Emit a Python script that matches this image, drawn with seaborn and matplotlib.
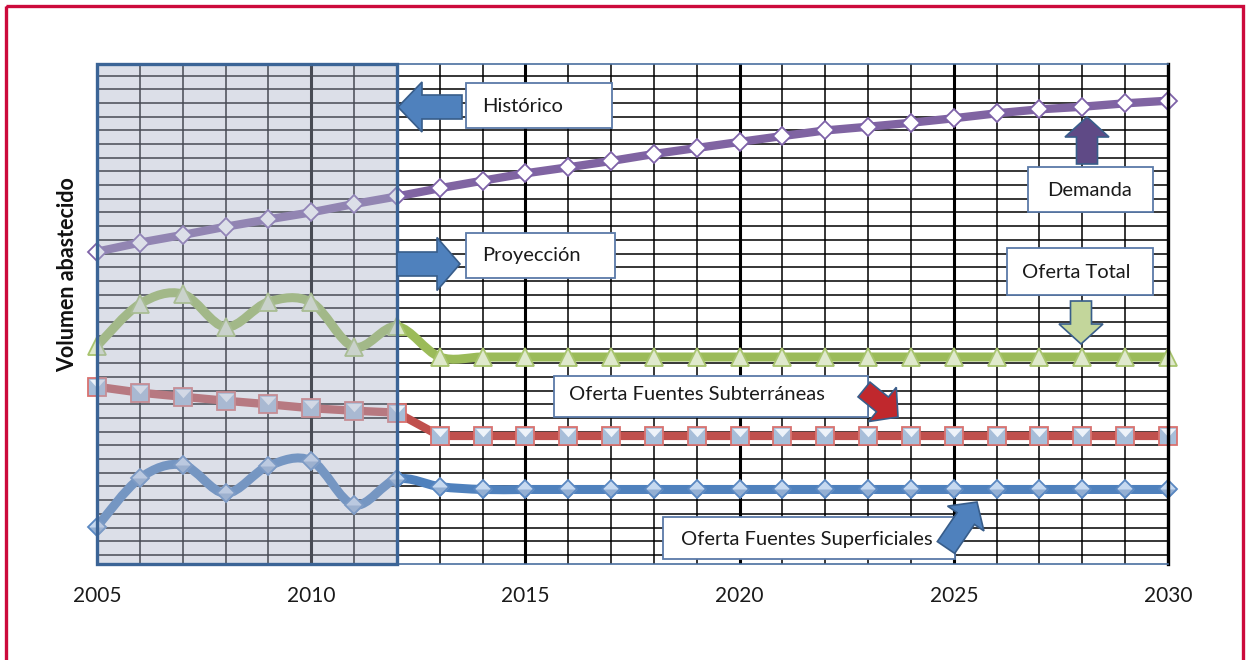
import numpy as np
import pandas as pd
import seaborn as sns
import matplotlib.pyplot as plt
from matplotlib.path import Path
from matplotlib.patches import PathPatch, Rectangle, FancyArrow
from matplotlib.transforms import Affine2D

# data (arbitrary volume units)
years = list(range(2005, 2031))
demanda = [22.14, 22.80, 23.36, 23.96, 24.50, 25.01, 25.62, 26.17, 26.77, 27.32,
           27.86, 28.30, 28.76, 29.27, 29.71, 30.15, 30.58, 30.99, 31.26, 31.55,
           31.88, 32.24, 32.53, 32.72, 32.97, 33.16]
oferta_total = [15.26, 18.32, 19.05, 16.64, 18.47, 18.45, 15.18, 16.68] + [14.45] * 18
subterraneas = [12.28, 11.85, 11.55, 11.26, 11.00, 10.71, 10.53, 10.39] + [8.69] * 18
superficiales = [2.07, 5.60, 6.57, 4.50, 6.50, 6.88, 3.65, 5.53, 4.99] + [4.78] * 17
tick_labels = ["2005", "2010", "2015", "2020", "2025", "2030"]

df = pd.DataFrame({"year": years, "demanda": demanda, "total": oferta_total,
                   "sub": subterraneas, "sup": superficiales})

W, H = 1246, 660
sns.set_style("white")
plt.rcParams["font.family"] = ["Lato", "DejaVu Sans"]

fig = plt.figure(figsize=(W / 100, H / 100), dpi=100)
ax = fig.add_axes([97 / W, 1 - 564 / H, (1168 - 97) / W, (564 - 64) / H])
px = Affine2D().scale(1, -1).translate(0, H)  # pixel coords, origin top-left


def smooth_path(xs, ys):
    pts = np.column_stack([xs, ys]).astype(float)
    n = len(pts)
    verts, codes = [pts[0]], [Path.MOVETO]
    for i in range(n - 1):
        p0, p1, p2, p3 = pts[max(i - 1, 0)], pts[i], pts[i + 1], pts[min(i + 2, n - 1)]
        verts += [p1 + (p2 - p0) / 6, p2 - (p3 - p1) / 6, p2]
        codes += [Path.CURVE4] * 3
    return Path(verts, codes)


# grid
ax.set_xlim(2005, 2030)
ax.set_ylim(-0.66, 35.84)
ax.set_xticks(years)
ax.set_xticklabels([str(y) if str(y) in tick_labels else "" for y in years])
ax.set_yticks(range(36))
ax.set_yticklabels([])
ax.tick_params(length=0, labelsize=15, pad=16, colors="#1a1a1a")
ax.grid(True, color="black", lw=1.1)
ax.set_axisbelow(True)
for x in [2010, 2015, 2020, 2025]:
    ax.axvline(x, color="black", lw=2.2, zorder=0.6)
for s in ["top", "bottom"]:
    ax.spines[s].set_color("#4a6fa0")
    ax.spines[s].set_linewidth(1.2)
ax.spines["right"].set_color("black")
ax.spines["right"].set_linewidth(2.4)
ax.spines["left"].set_visible(False)

# straight series
sns.lineplot(data=df, x="year", y="demanda", ax=ax, color="#8064a2", lw=6,
             marker="D", markersize=9.5, markerfacecolor="white",
             markeredgecolor="#7e62a8", markeredgewidth=1.3, zorder=2, clip_on=False)

sns.lineplot(data=df, x="year", y="sub", ax=ax, color="#c0504d", lw=6,
             marker="s", markersize=12.5, markerfacecolor="#a7bed9",
             markeredgecolor="#d9726f", markeredgewidth=1.3, zorder=2, clip_on=False)
sns.lineplot(data=df, x="year", y="sub", ax=ax, linestyle="none",
             marker=[(-1, 1), (1, 1), (0, -0.1)], markersize=11,
             markerfacecolor="#eef3f9", markeredgewidth=0, zorder=2.1, clip_on=False)

# smoothed series
ax.add_patch(PathPatch(smooth_path(years, oferta_total), fill=False,
                       edgecolor="#9bbb59", lw=6.5, zorder=2, capstyle="round"))
sns.lineplot(data=df, x="year", y="total", ax=ax, linestyle="none",
             marker="^", markersize=13, markerfacecolor="#dfe9cc",
             markeredgecolor="#a8c46e", markeredgewidth=1.3, zorder=2.1, clip_on=False)

ax.add_patch(PathPatch(smooth_path(years, superficiales), fill=False,
                       edgecolor="#4f81bd", lw=6.5, zorder=2, capstyle="round"))
sns.lineplot(data=df, x="year", y="sup", ax=ax, linestyle="none",
             marker="D", markersize=9.5, markerfacecolor="#c6d9f0",
             markeredgewidth=0, zorder=2.1, clip_on=False)
sns.lineplot(data=df, x="year", y="sup", ax=ax, linestyle="none",
             marker=[(-1, 0), (1, 0), (0, -1)], markersize=13.4,
             markerfacecolor="#93afd3", markeredgewidth=0, zorder=2.2, clip_on=False)
sns.lineplot(data=df, x="year", y="sup", ax=ax, linestyle="none",
             marker="D", markersize=9.5, markerfacecolor="none",
             markeredgecolor="#5a88c2", markeredgewidth=1.3, zorder=2.3, clip_on=False)

# historic period overlay
ax.add_patch(Rectangle((2005, -0.66), 7, 36.5, facecolor=(172 / 255, 180 / 255, 202 / 255),
                       alpha=0.42, edgecolor="none", zorder=3, clip_on=False))
ax.add_patch(Rectangle((2005, -0.66), 7, 36.5, facecolor="none", edgecolor="#3b6496",
                       lw=2.4, zorder=3.1, clip_on=False))

ax.set_xlabel("")
ax.set_ylabel("")
fig.text(68, 275, "Volumen abastecido", transform=px, rotation=90, ha="center",
         va="center", fontsize=15.5, fontweight="bold", color="#111111")

# callout boxes
boxes = [
    ((466, 83, 612, 128), "Histórico", (482, 106)),
    ((466, 233, 615, 278), "Proyección", (482, 256)),
    ((1028, 167, 1153, 212), "Demanda", (1047, 190)),
    ((1007, 248, 1153, 295), "Oferta Total", (1022, 273)),
    ((554, 376, 868, 417), "Oferta Fuentes Subterráneas", (569, 395)),
    ((663, 517, 955, 559), "Oferta Fuentes Superficiales", (681, 540)),
]
for (x0, y0, x1, y1), label, (tx, ty) in boxes:
    fig.patches.append(Rectangle((x0, y0), x1 - x0, y1 - y0, transform=px,
                                 facecolor="white", edgecolor="#5a7aa8", lw=1.3, zorder=5))
    fig.text(tx, ty, label, transform=px, ha="left", va="center", fontsize=14.5,
             color="#1a1a1a", zorder=6)

# arrows (x, y, dx, dy, shaft, head width, head length, fill)
arrows = [
    (462, 107, -64, 0, 24, 50, 24, "#4f81bd"),
    (397, 264, 63, 0, 24, 53, 23, "#4f81bd"),
    (1087, 164, 0, -47, 21, 44, 20, "#5f4a86"),
    (1081, 301, 0, 43, 21, 44, 20, "#c3d69b"),
    (864, 389.5, 34, 27.5, 19, 44, 20, "#c0282d"),
    (946, 547.5, 31, -45.5, 21, 44, 20, "#4f81bd"),
]
for x, y, dx, dy, w, hw, hl, c in arrows:
    fig.patches.append(FancyArrow(x, y, dx, dy, width=w, head_width=hw, head_length=hl,
                                  length_includes_head=True, transform=px,
                                  facecolor=c, edgecolor="#385d8a", lw=1.2, zorder=7))

# outer frame
fig.patches.append(Rectangle((5.5, 6), 1237.5, 700, transform=px, facecolor="none",
                             edgecolor="#cc0a3c", lw=2.4, zorder=8))

fig.savefig("out.png", dpi=100)
